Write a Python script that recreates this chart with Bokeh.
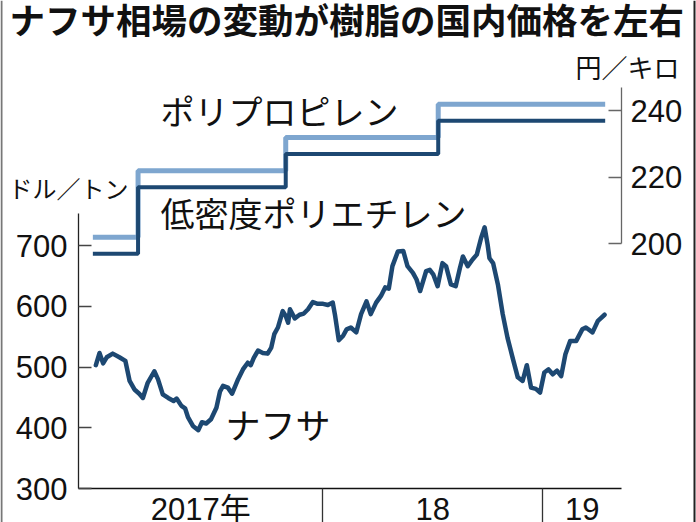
import pandas as pd
from bokeh.plotting import figure
from bokeh.models import Range1d, LinearAxis, FixedTicker, Label, ColumnDataSource, Span
from bokeh.embed import file_html
from bokeh.resources import INLINE

# ---------------- data ----------------
naphtha_dates = [
    "2016-12-21", "2016-12-27", "2017-01-02", "2017-01-08", "2017-01-18", "2017-01-29", "2017-02-08", "2017-02-15", "2017-02-23", "2017-03-03",
    "2017-03-09", "2017-03-17", "2017-03-28", "2017-04-03", "2017-04-11", "2017-04-20", "2017-04-29", "2017-05-04", "2017-05-12", "2017-05-18",
    "2017-05-23", "2017-05-31", "2017-06-09", "2017-06-15", "2017-06-22", "2017-06-30", "2017-07-09", "2017-07-15", "2017-07-20", "2017-07-28",
    "2017-08-04", "2017-08-14", "2017-08-22", "2017-08-30", "2017-09-04", "2017-09-09", "2017-09-16", "2017-09-24", "2017-10-02", "2017-10-08",
    "2017-10-13", "2017-10-19", "2017-10-27", "2017-11-01", "2017-11-05", "2017-11-08", "2017-11-16", "2017-11-24", "2017-12-01", "2017-12-08",
    "2017-12-16", "2017-12-24", "2018-01-02", "2018-01-10", "2018-01-18", "2018-01-22", "2018-01-28", "2018-02-04", "2018-02-10", "2018-02-17",
    "2018-02-26", "2018-03-06", "2018-03-15", "2018-03-22", "2018-03-31", "2018-04-08", "2018-04-15", "2018-04-21", "2018-04-27", "2018-05-06",
    "2018-05-15", "2018-05-22", "2018-05-31", "2018-06-06", "2018-06-12", "2018-06-22", "2018-06-28", "2018-07-04", "2018-07-11", "2018-07-19",
    "2018-07-25", "2018-08-02", "2018-08-10", "2018-08-17", "2018-08-22", "2018-08-30", "2018-09-07", "2018-09-14", "2018-09-21", "2018-09-27",
    "2018-10-02", "2018-10-05", "2018-10-11", "2018-10-19", "2018-10-27", "2018-11-04", "2018-11-13", "2018-11-21", "2018-11-29", "2018-12-06",
    "2018-12-13", "2018-12-21", "2018-12-28", "2019-01-04", "2019-01-11", "2019-01-18", "2019-01-25", "2019-02-01", "2019-02-08", "2019-02-16",
    "2019-02-26", "2019-03-08", "2019-03-14", "2019-03-25", "2019-04-03", "2019-04-14",
]
naphtha_usd_per_ton = [
    503, 523, 506, 516, 522, 516, 510, 477, 463, 456,
    449, 474, 493, 480, 455, 449, 444, 448, 436, 432,
    417, 403, 396, 409, 407, 414, 433, 460, 469, 466,
    456, 480, 496, 507, 503, 515, 527, 523, 522, 532,
    554, 565, 592, 584, 573, 595, 580, 586, 588, 595,
    607, 604, 604, 602, 606, 584, 544, 551, 562, 565,
    557, 587, 608, 587, 606, 617, 631, 629, 666, 690,
    691, 666, 655, 644, 625, 658, 660, 652, 633, 671,
    666, 636, 633, 663, 682, 666, 677, 685, 712, 730,
    701, 679, 671, 636, 587, 548, 513, 483, 477, 503,
    466, 464, 458, 491, 496, 488, 494, 485, 521, 543,
    543, 562, 565, 557, 576, 586,
]

resin_dates = ["2016-12-16", "2017-03-01", "2017-11-01", "2018-07-12", "2019-04-15"]
polypropylene_yen_per_kg = [202, 222, 232, 242, 242]
ldpe_yen_per_kg = [197, 217, 227, 237, 237]

year_boundaries = ["2018-01-01", "2019-01-01"]
year_labels = ["2017年", "18", "19"]
left_ticks = [300, 400, 500, 600, 700]
right_ticks = [200, 220, 240]

title_text = "ナフサ相場の変動が樹脂の国内価格を左右"

# ---------------- helpers ----------------
ORIGIN = pd.Timestamp("2017-01-01")


def days(dates):
    return [(pd.Timestamp(d) - ORIGIN).days for d in dates]


W, H = 696, 522
PXD = 0.60274          # px per day
PXL = 0.6075           # px per $/ton
PXR = 3.325            # px per yen/kg

# whole canvas is the frame; ranges chosen so the reference geometry is kept
X0 = 365 - 322 / PXD
X1 = X0 + W / PXD
YL0 = 300 - (H - 488) / PXL
YL1 = YL0 + H / PXL
YR0 = 200 - (H - 243.3) / PXR
YR1 = YR0 + H / PXR


def px_x(ix):
    return X0 + ix / PXD


def px_y(iy):
    return YL0 + (H - iy) / PXL


NAVY = "#1d4872"
LIGHT = "#7ea6cf"
NUMFONT = "Liberation Sans, Noto Sans CJK JP"
JPFONT = "Noto Sans CJK JP"

p = figure(width=W, height=H, output_backend="svg", toolbar_location=None,
           x_range=Range1d(X0, X1), y_range=Range1d(YL0, YL1),
           x_axis_type=None, y_axis_type=None,
           min_border=0, min_border_left=0, min_border_right=0,
           min_border_top=0, min_border_bottom=0)
p.extra_y_ranges = {"yen": Range1d(YR0, YR1)}
p.outline_line_color = None
p.background_fill_color = "white"
p.border_fill_color = "white"

# axes (fixed inside the canvas)
left = LinearAxis(ticker=FixedTicker(ticks=left_ticks, minor_ticks=[]), bounds=(300, 752),
                  fixed_location=px_x(78))
left.major_tick_in = 13
left.major_tick_out = 0
left.minor_tick_in = 0
left.minor_tick_out = 0
left.major_label_standoff = 11
left.axis_line_color = "#222222"
left.axis_line_width = 1.3
left.major_tick_line_color = "#444444"
left.major_tick_line_width = 1.3
left.major_label_text_font = NUMFONT
left.major_label_text_font_size = "31px"
left.major_label_text_color = "#111111"
p.add_layout(left, "left")

right = LinearAxis(y_range_name="yen", ticker=FixedTicker(ticks=right_ticks, minor_ticks=[]),
                   bounds=(200, 247), fixed_location=px_x(621))
right.major_tick_in = 13
right.major_tick_out = 0
right.minor_tick_in = 0
right.minor_tick_out = 0
right.major_label_standoff = 9
right.axis_line_color = "#666666"
right.axis_line_width = 1.3
right.major_tick_line_color = "#666666"
right.major_tick_line_width = 1.3
right.major_label_text_font = NUMFONT
right.major_label_text_font_size = "31px"
right.major_label_text_color = "#111111"
p.add_layout(right, "right")

edges = [px_x(78)] + days(year_boundaries) + [px_x(621)]
centers = [int(round((edges[i] + edges[i + 1]) / 2)) for i in range(len(year_labels))]
bottom = LinearAxis(ticker=FixedTicker(ticks=centers, minor_ticks=days(year_boundaries)),
                    bounds=(px_x(78), px_x(621)), fixed_location=300)
bottom.major_label_overrides = {c: lab for c, lab in zip(centers, year_labels)}
bottom.major_tick_in = 0
bottom.major_tick_out = 0
bottom.minor_tick_in = 0
bottom.minor_tick_out = 34
# labels are offset by the (minor) tick extent; pull them back up under the axis line
bottom.major_label_standoff = -31
bottom.major_label_text_font = NUMFONT
bottom.major_label_text_font_size = "31px"
bottom.major_label_text_color = "#111111"
bottom.axis_line_color = "#111111"
bottom.axis_line_width = 1.5
bottom.minor_tick_line_color = "#333333"
bottom.minor_tick_line_width = 1.3
p.add_layout(bottom, "below")

# data marks
rd = days(resin_dates)
p.step(rd, polypropylene_yen_per_kg, mode="after", y_range_name="yen",
       line_color=LIGHT, line_width=5)
p.step(rd, ldpe_yen_per_kg, mode="after", y_range_name="yen",
       line_color=NAVY, line_width=4)
src = ColumnDataSource(dict(x=days(naphtha_dates), y=naphtha_usd_per_ton))
p.line("x", "y", source=src, line_color=NAVY, line_width=4.5, line_join="round", line_cap="round")

# picture border (left / right edges of the reference image)
p.add_layout(Span(location=px_x(1), dimension="height", line_color="#777777", line_width=2))
p.add_layout(Span(location=px_x(694), dimension="height", line_color="#222222", line_width=2))


# texts
def add_text(txt, ix, iy, size, font=JPFONT, style="normal", align="left"):
    p.add_layout(Label(x=px_x(ix), y=px_y(iy), text=txt, text_align=align, text_baseline="middle",
                       text_font=font, text_font_size=size, text_font_style=style,
                       text_color="#111111"))


add_text(title_text, 9, 18, "35.5px", style="bold")
add_text("ポリプロピレン", 160, 110, "34px")
add_text("低密度ポリエチレン", 160, 212, "34px")
add_text("ナフサ", 225, 423, "35px")
add_text("円／キロ", 575, 66, "26px")
add_text("ドル／トン", 8, 187, "24px")

open("out.html", "w").write(file_html(p, INLINE))
